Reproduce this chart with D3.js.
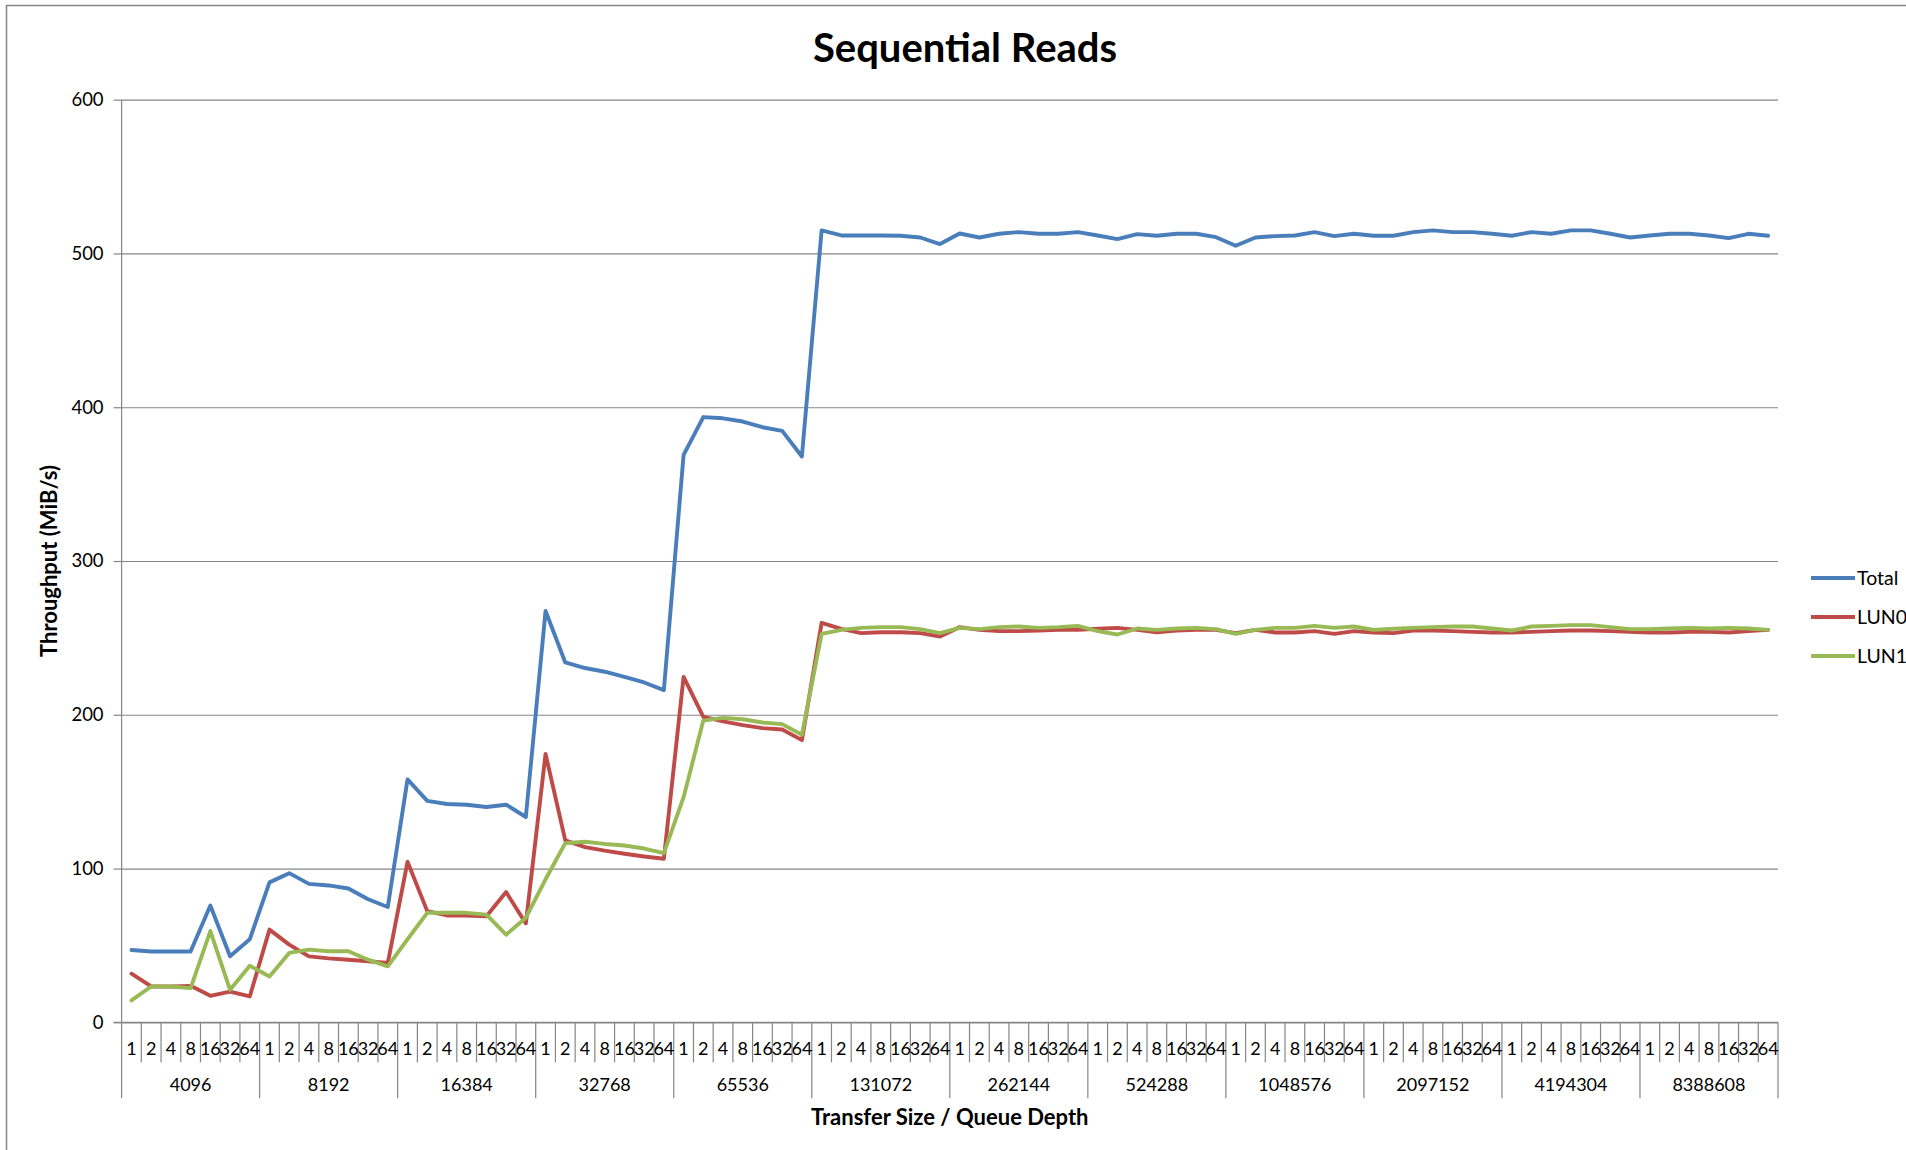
<!DOCTYPE html>
<html>
<head>
<meta charset="utf-8">
<title>Sequential Reads</title>
<script src="https://cdn.jsdelivr.net/npm/d3@7/dist/d3.min.js"></script>
<style>
  html, body { margin: 0; padding: 0; background: #ffffff; }
  svg { display: block; }
  text { font-family: Lato, "Open Sans", sans-serif; fill: #000; }
</style>
</head>
<body>
<svg id="chart" width="1906" height="1150"></svg>
<script>
// Transfer sizes (outer axis level) and queue depths (inner axis level)
const transferSizes = ["4096", "8192", "16384", "32768", "65536", "131072",
  "262144", "524288", "1048576", "2097152", "4194304", "8388608"];
const queueDepths = ["1", "2", "4", "8", "16", "32", "64"];
const yTicks = [0, 100, 200, 300, 400, 500, 600];

// Throughput in MiB/s, one value per transfer size / queue depth pair
const total = [
  47, 46, 46, 46, 76, 43, 54,
  91, 97, 90, 89, 87, 80, 75,
  158, 144, 142, 141.5, 140, 141.5, 133.5,
  267.5, 234, 230.4, 228, 224.6, 221, 216,
  369, 393.6, 392.8, 390.7, 387, 384.6, 368,
  515, 511.7, 511.7, 511.7, 511.5, 510.4, 506.1,
  513, 510.4, 512.8, 513.9, 512.8, 512.8, 513.9,
  511.7, 509.3, 512.6, 511.5, 512.8, 512.8, 510.6,
  505, 510.4, 511.3, 511.7, 513.9, 511.3, 512.8,
  511.5, 511.5, 513.9, 515, 513.9, 513.9, 512.8,
  511.5, 513.9, 512.8, 515, 515, 512.8, 510.4,
  511.7, 512.8, 512.8, 511.7, 510, 512.8, 511.5
];
const lun0 = [
  31.6, 23.3, 23.3, 23.7, 17.2, 20, 16.8,
  60.3, 50.5, 42.9, 41.6, 40.7, 39.7, 38.6,
  104.4, 72.3, 69.5, 69.5, 69, 84.7, 64.3,
  174.5, 118.3, 113.9, 111.6, 109.6, 107.8, 106.4,
  224.6, 198.6, 195.7, 193.3, 191.3, 190.4, 183.5,
  259.8, 255.9, 253.1, 253.7, 253.7, 253.1, 250.9,
  257, 255.2, 254.4, 254.4, 254.8, 255.2, 255.2,
  255.9, 256.5, 255.2, 253.7, 254.8, 255.2, 255.2,
  253.1, 255.2, 253.5, 253.5, 254.4, 252.6, 254.4,
  253.5, 253.1, 254.8, 254.8, 254.4, 253.9, 253.5,
  253.5, 253.9, 254.4, 254.8, 254.8, 254.4, 253.9,
  253.5, 253.5, 253.9, 253.9, 253.5, 254.4, 255.2
];
const lun1 = [
  14.2, 23.3, 23.3, 22.2, 59.3, 21.1, 36.8,
  29.8, 45.1, 47.3, 46.2, 46.2, 40.7, 36.4,
  54, 71.2, 71.2, 71.2, 70, 57, 68,
  93, 116.5, 117.4, 116, 115, 113, 110,
  146.4, 196.2, 198, 197.1, 195, 193.9, 187,
  252.6, 255.2, 256.5, 257, 257, 255.7, 253.1,
  256.5, 255.7, 257, 257.4, 256.5, 257, 257.8,
  254.4, 252.2, 256.1, 255.2, 256.1, 256.5, 255.7,
  252.6, 255.2, 256.5, 256.5, 257.8, 256.5, 257.4,
  255.2, 255.9, 256.5, 257, 257.4, 257.4, 256.1,
  254.8, 257.4, 257.8, 258.3, 258.3, 257, 255.7,
  255.7, 256.1, 256.5, 256.1, 256.5, 256.1, 255.2
];

const seriesNames = ["Total", "LUN0", "LUN1"];
const seriesColors = ["#4a7ebb", "#be4b48", "#98b954"];
const seriesValues = [total, lun0, lun1];

const svg = d3.select("#chart");
const gridColor = "#868686";

// Chart frame
svg.append("rect")
  .attr("x", 6.5).attr("y", 5.5)
  .attr("width", 2400).attr("height", 2400)
  .attr("fill", "none").attr("stroke", gridColor).attr("stroke-width", 1.5);

const plot = { left: 121.6, right: 1778, top: 99.7, bottom: 1022.3 };

// Category keys: transfer size | queue depth
const keys = [];
transferSizes.forEach(t => queueDepths.forEach(q => keys.push(t + "|" + q)));

const x = d3.scaleBand().domain(keys).range([plot.left, plot.right]).padding(0);
const y = d3.scaleLinear().domain([0, 600]).range([plot.bottom, plot.top]);

// Horizontal gridlines and value labels
const yAxis = d3.axisLeft(y)
  .tickValues(yTicks)
  .tickSize(-(plot.right - plot.left))
  .tickPadding(18)
  .tickFormat(d3.format("d"));
const yg = svg.append("g")
  .attr("transform", `translate(${plot.left},0)`)
  .call(yAxis);
yg.select(".domain").remove();
yg.selectAll(".tick line").attr("stroke", gridColor).attr("stroke-width", 1.2);
yg.selectAll(".tick text")
  .attr("font-size", 18.5).attr("font-family", "Lato, sans-serif").attr("fill", "#000");
// short outer tick marks
yg.selectAll(".tick").append("line")
  .attr("x1", -8).attr("x2", 0)
  .attr("stroke", gridColor).attr("stroke-width", 1.2);

// Vertical value axis line
svg.append("line")
  .attr("x1", plot.left).attr("x2", plot.left)
  .attr("y1", plot.top).attr("y2", plot.bottom)
  .attr("stroke", gridColor).attr("stroke-width", 1.2);

// Category axis: separators and two label rows
const xg = svg.append("g");
const bw = x.bandwidth();
const innerBottom = plot.bottom + 40;
const outerBottom = plot.bottom + 76;
keys.forEach((k, i) => {
  const isGroupStart = i % queueDepths.length === 0;
  xg.append("line")
    .attr("x1", x(k)).attr("x2", x(k))
    .attr("y1", plot.bottom).attr("y2", isGroupStart ? outerBottom : innerBottom)
    .attr("stroke", gridColor).attr("stroke-width", 1.2);
});
xg.append("line")
  .attr("x1", plot.right).attr("x2", plot.right)
  .attr("y1", plot.bottom).attr("y2", outerBottom)
  .attr("stroke", gridColor).attr("stroke-width", 1.2);

xg.selectAll("text.qd")
  .data(keys)
  .join("text")
  .attr("class", "qd")
  .attr("x", k => x(k) + bw / 2)
  .attr("y", plot.bottom + 26)
  .attr("dy", "0.35em")
  .attr("text-anchor", "middle")
  .attr("font-size", 18)
  .text(k => k.split("|")[1]);

xg.selectAll("text.ts")
  .data(transferSizes)
  .join("text")
  .attr("class", "ts")
  .attr("x", t => x(t + "|1") + bw * queueDepths.length / 2)
  .attr("y", plot.bottom + 62)
  .attr("dy", "0.35em")
  .attr("text-anchor", "middle")
  .attr("font-size", 18)
  .text(t => t);

// Horizontal axis line at zero
svg.append("line")
  .attr("x1", plot.left - 8).attr("x2", plot.right)
  .attr("y1", plot.bottom).attr("y2", plot.bottom)
  .attr("stroke", gridColor).attr("stroke-width", 1.2);

// Series lines
const line = d3.line()
  .x((d, i) => x(keys[i]) + bw / 2)
  .y(d => y(d));

seriesValues.forEach((vals, s) => {
  svg.append("path")
    .datum(vals)
    .attr("d", line)
    .attr("fill", "none")
    .attr("stroke", seriesColors[s])
    .attr("stroke-width", 3.9)
    .attr("stroke-linejoin", "round")
    .attr("stroke-linecap", "round");
});

// Title and axis titles
svg.append("text")
  .attr("x", 965).attr("y", 48)
  .attr("dy", "0.35em")
  .attr("text-anchor", "middle")
  .attr("font-size", 40).attr("font-weight", "bold")
  .text("Sequential Reads");

svg.append("text")
  .attr("x", (plot.left + plot.right) / 2).attr("y", 1117)
  .attr("dy", "0.35em")
  .attr("text-anchor", "middle")
  .attr("font-size", 22).attr("font-weight", "bold")
  .text("Transfer Size / Queue Depth");

svg.append("text")
  .attr("transform", `translate(49,${(plot.top + plot.bottom) / 2}) rotate(-90)`)
  .attr("dy", "0.35em")
  .attr("text-anchor", "middle")
  .attr("font-size", 22).attr("font-weight", "bold")
  .text("Throughput (MiB/s)");

// Legend
const legendY = [578, 617, 656];
seriesNames.forEach((name, s) => {
  svg.append("line")
    .attr("x1", 1811).attr("x2", 1855)
    .attr("y1", legendY[s]).attr("y2", legendY[s])
    .attr("stroke", seriesColors[s]).attr("stroke-width", 3.9);
  svg.append("text")
    .attr("x", 1857).attr("y", legendY[s])
    .attr("dy", "0.35em")
    .attr("font-size", 19.5)
    .text(name);
});
</script>
</body>
</html>
